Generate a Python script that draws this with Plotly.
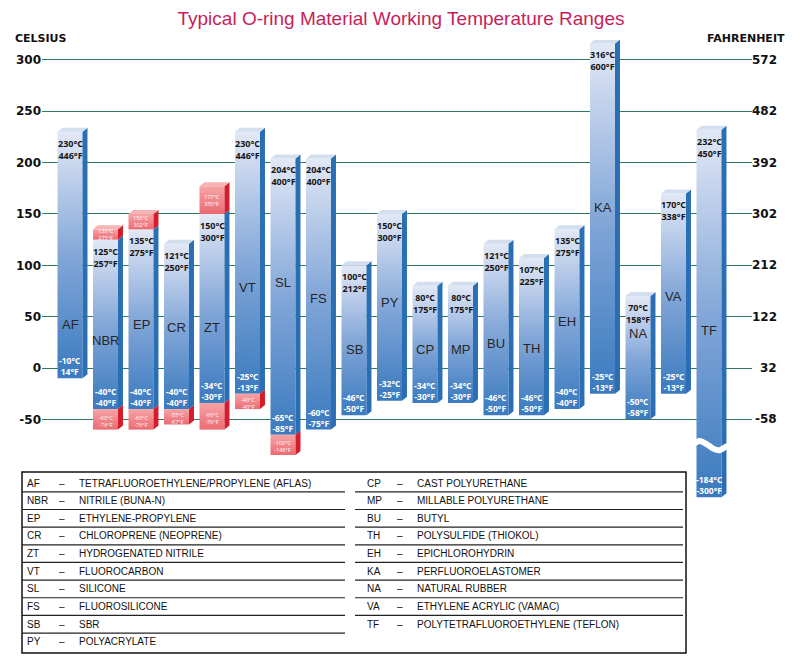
import plotly.graph_objects as go

# ---------------- data ----------------
codes = ["AF", "NBR", "EP", "CR", "ZT", "VT", "SL", "FS", "SB", "PY",
         "CP", "MP", "BU", "TH", "EH", "KA", "NA", "VA", "TF"]
low_c = [-10, -40, -40, -40, -34, -25, -65, -60, -46, -32,
         -34, -34, -46, -46, -40, -25, -50, -25, -184]
high_c = [230, 125, 135, 121, 150, 230, 204, 204, 100, 150,
          80, 80, 121, 107, 135, 316, 70, 170, 232]
low_f = [14, -40, -40, -40, -30, -13, -85, -75, -50, -25,
         -30, -30, -50, -50, -40, -13, -58, -13, -300]
high_f = [446, 257, 275, 250, 300, 446, 400, 400, 212, 300,
          175, 175, 250, 225, 275, 600, 158, 338, 450]
# extended (special compound) ranges, shown in red
ext_high_c = [None, 135, 150, None, 177, None, None, None, None, None,
              None, None, None, None, None, None, None, None, None]
ext_high_f = [None, 275, 302, None, 350, None, None, None, None, None,
              None, None, None, None, None, None, None, None, None]
ext_low_c = [None, -60, -60, -55, -60, -40, -100, None, None, None,
             None, None, None, None, None, None, None, None, None]
ext_low_f = [None, -76, -76, -67, -76, -40, -148, None, None, None,
             None, None, None, None, None, None, None, None, None]

names = ["TETRAFLUOROETHYLENE/PROPYLENE (AFLAS)", "NITRILE (BUNA-N)",
         "ETHYLENE-PROPYLENE", "CHLOROPRENE (NEOPRENE)", "HYDROGENATED NITRILE",
         "FLUOROCARBON", "SILICONE", "FLUOROSILICONE", "SBR", "POLYACRYLATE",
         "CAST POLYURETHANE", "MILLABLE POLYURETHANE", "BUTYL",
         "POLYSULFIDE (THIOKOL)", "EPICHLOROHYDRIN", "PERFLUOROELASTOMER",
         "NATURAL RUBBER", "ETHYLENE ACRYLIC (VAMAC)",
         "POLYTETRAFLUOROETHYLENE (TEFLON)"]

celsius_ticks = [-50, 0, 50, 100, 150, 200, 250, 300]
fahrenheit_ticks = ["-58", "32", "122", "212", "302", "392", "482", "572"]

title = "Typical O-ring Material Working Temperature Ranges"

# ---------------- layout constants ----------------
name_label_y = [42, 27, 42, 39, 39, 78, 83, 68, 18, 64,
                18, 18, 24, 19, 45, 156, 34, 70, 37]
BREAK = -70.0        # axis break (compressed below this value)
BREAK_K = 0.49
HW, DX, DY = 0.352, 0.14, 3.9

BLUE_SCALE = [[0, "#3a7abf"], [0.5, "#83a7d8"], [1, "#e2e8f6"]]
RED_SCALE = [[0, "#ec6a71"], [1, "#f6a4a6"]]
BLUE_SIDE, BLUE_TOP = "#2a6fb3", "#d3deef"
RED_SIDE, RED_TOP = "#d41c2c", "#f5b3b4"
GRID = "#2f7a5c"

# page offset (browser body margin) compensation
OFF = 8
W, H = 800 - OFF, 661 - OFF
PL, PR, PT, PB = 42, 752, 40, 500      # plot area in page pixels
L, R, T, B = PL - OFF, (W + OFF) - PR, PT - OFF, (H + OFF) - PB
PW, PH = PR - PL, PB - PT


def disp(v):
    return v if v >= BREAK else BREAK + (v - BREAK) * BREAK_K


def px_x(px):
    return (px - PL) / PW


def px_y(py):
    return (PB - py) / PH


fig = go.Figure()


def face(xs, ys, color=None, scale=None, lo=None, hi=None):
    kw = dict(x=xs + [xs[0]], y=ys + [ys[0]], mode="lines", line=dict(width=0),
              fill="toself", hoverinfo="skip", showlegend=False)
    if scale is not None:
        kw["fillgradient"] = dict(type="vertical", colorscale=scale, start=lo, stop=hi)
    else:
        kw["fillcolor"] = color
    fig.add_trace(go.Scatter(**kw))


def column(i, lo, hi, red):
    scale = RED_SCALE if red else BLUE_SCALE
    side = RED_SIDE if red else BLUE_SIDE
    face([i - HW, i + HW, i + HW, i - HW], [lo, lo, hi, hi], scale=scale, lo=lo, hi=hi)
    face([i + HW, i + HW + DX, i + HW + DX, i + HW], [lo, lo + DY, hi + DY, hi], color=side)


annotations = []

for i, code in enumerate(codes):
    lo, hi = disp(low_c[i]), disp(high_c[i])
    column(i, lo, hi, False)
    top = hi
    top_red = False
    if ext_high_c[i] is not None:
        eh = disp(ext_high_c[i])
        column(i, hi, eh, True)
        top, top_red = eh, True
        annotations.append(dict(x=i, y=(hi + eh) / 2, text=f"{ext_high_c[i]}°C<br>{ext_high_f[i]}°F",
                                showarrow=False, font=dict(size=5.5, color="white"),
                                yanchor="middle"))
    if ext_low_c[i] is not None:
        el = disp(ext_low_c[i])
        column(i, el, lo, True)
        annotations.append(dict(x=i, y=(lo + el) / 2 - 2, text=f"{ext_low_c[i]}°C<br>{ext_low_f[i]}°F",
                                showarrow=False, font=dict(size=5.5, color="white"),
                                yanchor="middle"))
    # top face
    face([i - HW, i + HW, i + HW + DX, i - HW + DX], [top, top, top + DY, top + DY],
         color=RED_TOP if top_red else BLUE_TOP)

    # labels
    annotations.append(dict(x=i, y=name_label_y[i], text=code, showarrow=False,
                            font=dict(family="Liberation Sans", size=13, color="#262626")))
    annotations.append(dict(x=i, y=hi, yanchor="top", yshift=-3,
                            text=f"{high_c[i]}°C<br>{high_f[i]}°F", showarrow=False,
                            font=dict(size=9, color="#151515", weight="bold")))
    annotations.append(dict(x=i, y=lo, yanchor="bottom", yshift=-1,
                            text=f"{low_c[i]}°C<br>{low_f[i]}°F", showarrow=False,
                            font=dict(size=8.5, color="white", weight="bold")))

# axis-break wave on TF
tf = codes.index("TF")
wave_dx = [-0.66, -0.45, -0.27, -0.05, 0.12, 0.30, 0.48, 0.70]
wave_dy = [-4.5, -1.0, 2.5, -1.0, -5.0, -6.5, -3.0, 0.5]
fig.add_trace(go.Scatter(x=[tf + d for d in wave_dx], y=[BREAK - 3.5 + d for d in wave_dy],
                         mode="lines", line=dict(color="white", width=6, shape="spline"),
                         hoverinfo="skip", showlegend=False))

# right-hand Fahrenheit tick labels
for c, f in zip(celsius_ticks, fahrenheit_ticks):
    annotations.append(dict(xref="paper", x=px_x(779), xanchor="right", y=c, yref="y",
                            text=f, showarrow=False,
                            font=dict(family="DejaVu Sans", size=12, color="#111", weight="bold")))

# axis titles
annotations.append(dict(xref="paper", yref="paper", x=px_x(13), y=px_y(38), xanchor="left",
                        yanchor="middle", text="CELSIUS", showarrow=False,
                        font=dict(family="DejaVu Sans", size=11, color="#111", weight="bold")))
annotations.append(dict(xref="paper", yref="paper", x=px_x(787), y=px_y(38), xanchor="right",
                        yanchor="middle", text="FAHRENHEIT", showarrow=False,
                        font=dict(family="DejaVu Sans", size=11, color="#111", weight="bold")))

# ---------------- legend table ----------------
shapes = []
box = dict(x0=22, x1=686, y0=472, y1=653)
shapes.append(dict(type="rect", xref="paper", yref="paper",
                   x0=px_x(box["x0"]), x1=px_x(box["x1"]), y0=px_y(box["y0"]), y1=px_y(box["y1"]),
                   line=dict(color="#111", width=1.5), fillcolor="white", layer="above"))
row_h = 17.65
first_row = 483
cols = [dict(start=0, n=10, ab=25, dash=57, nm=77, lx0=22, lx1=345),
        dict(start=10, n=9, ab=365, dash=395, nm=415, lx0=355, lx1=683)]
tf_font = dict(family="Liberation Sans", size=10, color="#111")
for col in cols:
    for r in range(col["n"]):
        k = col["start"] + r
        yc = first_row + r * row_h
        annotations.append(dict(xref="paper", yref="paper", x=px_x(col["ab"]), y=px_y(yc),
                                xanchor="left", yanchor="middle", text=codes[k],
                                showarrow=False, font=tf_font))
        annotations.append(dict(xref="paper", yref="paper", x=px_x(col["dash"]), y=px_y(yc),
                                xanchor="left", yanchor="middle", text="–",
                                showarrow=False, font=tf_font))
        annotations.append(dict(xref="paper", yref="paper", x=px_x(col["nm"]), y=px_y(yc),
                                xanchor="left", yanchor="middle", text=names[k],
                                showarrow=False, font=tf_font))
        if r < 9 and not (col["start"] == 10 and r == 8):
            ly = yc + row_h / 2
            shapes.append(dict(type="line", xref="paper", yref="paper",
                               x0=px_x(col["lx0"]), x1=px_x(col["lx1"]), y0=px_y(ly), y1=px_y(ly),
                               line=dict(color="#222", width=1.2), layer="above"))

ymax = (368 - PT) / 1.027
ymin = (368 - PB) / 1.027
xmin = (PL - 70) / 35.5
xmax = (PR - 70) / 35.5

fig.update_layout(
    width=W, height=H,
    margin=dict(l=L, r=R, t=T, b=B, autoexpand=False),
    paper_bgcolor="white", plot_bgcolor="white",
    title=dict(text=title, x=(401 - OFF) / W, xanchor="center", y=1.0, yanchor="top",
               pad=dict(t=4, b=0, l=0, r=0),
               font=dict(family="Liberation Sans", size=19, color="#c81e5a")),
    xaxis=dict(range=[xmin, xmax], visible=False, fixedrange=True),
    yaxis=dict(range=[ymin, ymax], tickvals=celsius_ticks, ticktext=[str(v) for v in celsius_ticks],
               showgrid=True, gridcolor=GRID, gridwidth=1, zeroline=False, showline=False,
               ticks="", tickfont=dict(family="DejaVu Sans", size=12, color="#111", weight="bold"),
               fixedrange=True),
    showlegend=False,
    annotations=annotations,
    shapes=shapes,
)

fig.write_html("out.html")
